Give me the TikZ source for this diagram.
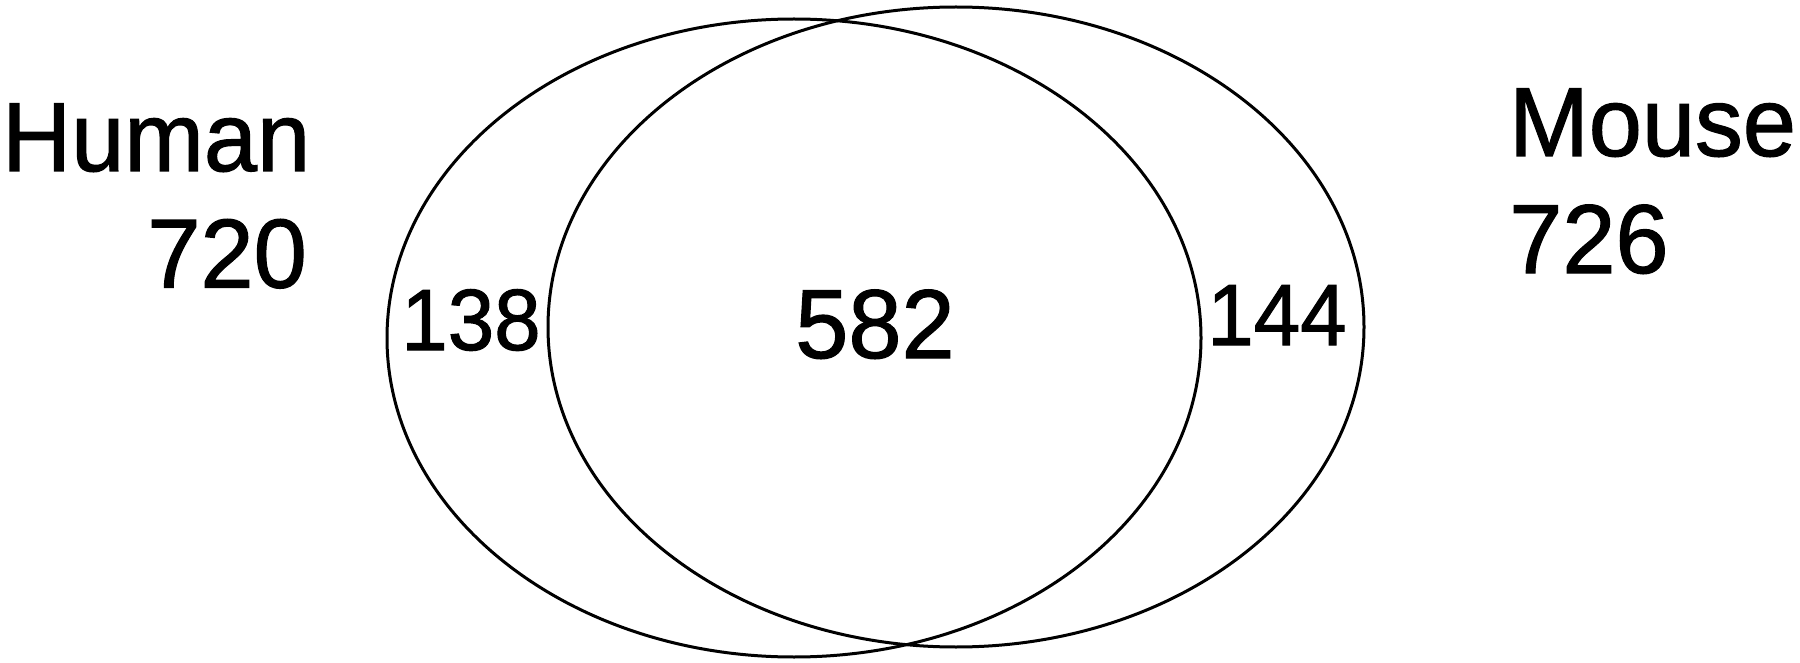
\documentclass[tikz,border=0pt]{standalone}
\usepackage{fontspec}
\setmainfont[FakeBold=1.2]{Liberation Sans}
\begin{document}
\begin{tikzpicture}[x=1pt,y=-1pt,
  setline/.style={line width=3pt},
  bigtxt/.style={inner sep=0pt,xscale=0.975,font=\fontsize{98}{98}\selectfont},
  midtxt/.style={inner sep=0pt,xscale=0.96,font=\fontsize{87}{87}\selectfont}]
\useasboundingbox (0,0) rectangle (1800,663);
\draw[setline] (794,338) ellipse [x radius=407pt, y radius=319pt];
\draw[setline] (956,327) ellipse [x radius=408pt, y radius=320pt];
\node[bigtxt,anchor=base west] (human) at (2,171) {Human};
\node[bigtxt,anchor=base east] (hnum) at (307,287.5) {720};
\node[bigtxt,anchor=base west] (mouse) at (1509,156) {Mouse};
\node[bigtxt,anchor=base west] (mnum) at (1509,273) {726};
\node[midtxt,anchor=base] (honly) at (471,350) {138};
\node[bigtxt,anchor=base] (both) at (875,358) {582};
\node[midtxt,anchor=base] (monly) at (1277,345) {144};
\end{tikzpicture}
\end{document}
